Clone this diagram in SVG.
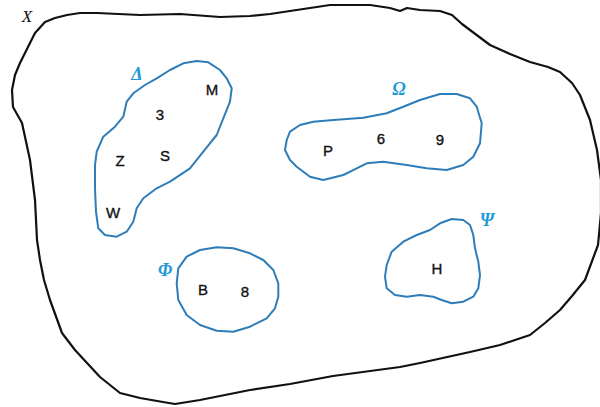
<svg xmlns="http://www.w3.org/2000/svg" width="600" height="407" viewBox="0 0 600 407">
  <style>
    .universe { fill: none; stroke: #111; stroke-width: 2.2; stroke-linejoin: round; }
    .set { fill: none; stroke: #2f7db8; stroke-width: 2; stroke-linejoin: round; }
    .elem { font-family: "Liberation Sans", Arial, sans-serif; font-size: 15px; fill: #111; stroke: #111; stroke-width: 0.35; text-anchor: middle; }
    .setname { font-family: "Liberation Serif", "DejaVu Serif", serif; font-style: italic; font-weight: bold; font-size: 18px; fill: #1e9ad6; text-anchor: middle; }
    .uname { font-family: "Liberation Serif", "DejaVu Serif", serif; font-style: italic; font-size: 17px; fill: #111; text-anchor: middle; }
  </style>
  <rect width="600" height="407" fill="#fff"/>

  <!-- universal set X -->
  <g id="universe">
    <path class="universe" d="M45,22 L55,18 L67,15 L80,13 L97,13 L140,15 L180,14 L220,17 L250,16 L270,14 L290,11 L310,8 L330,5 L370,5 L390,8 L400,11 L407,8 L420,10 L440,11 L452,15 L462,24 L470,30 L490,45 L510,54 L530,62 L548,67 L560,72 L572,83 L580,95 L590,120 L597,150 L601,180 L601,213 L598,245 L585,280 L572,296 L560,310 L545,323 L530,335 L500,345 L470,352 L420,363 L400,367 L333,376 L290,384 L250,390 L200,400 L175,404 L163,402 L140,398 L120,393 L100,377 L75,350 L62,333 L50,300 L44,280 L40,260 L37,240 L35,200 L30,160 L22,123 L13,107 L12,90 L15,75 L20,63 L28,47 L35,33 Z"/>
    <text class="uname" x="27" y="22">X</text>
  </g>

  <!-- set Delta -->
  <g id="set-delta">
    <path class="set" d="M96.7,151.7 L103.3,136.7 L115,126.7 L123.3,116.7 L126.7,101.7 L133.3,93.3 L145,85 L156.7,78.3 L170,70 L183.3,63.3 L196.7,61 L208.3,62.3 L220,70 L226.7,78.3 L231.7,88.3 L230,101.7 L223.3,118.3 L216.7,135 L203.3,151.7 L190,168.3 L170,181.7 L156.7,188.3 L143.3,198.3 L136.7,208.3 L133.3,221.7 L126.7,231.7 L116.7,236.7 L105,235 L98.3,228.3 L96,211.7 L95,188.3 L95,165 Z"/>
    <text class="setname" x="137" y="80">Δ</text>
    <text class="elem" x="212" y="95">M</text>
    <text class="elem" x="160" y="120">3</text>
    <text class="elem" x="120" y="166">Z</text>
    <text class="elem" x="165" y="161">S</text>
    <text class="elem" x="113" y="218">W</text>
  </g>

  <!-- set Omega -->
  <g id="set-omega">
    <path class="set" d="M286.7,140 L290,131.7 L300,125 L313.3,121.7 L333.3,120 L363.3,117.7 L386.7,113.3 L403.3,106.7 L420,100 L440,94 L456.7,94 L470,98.3 L476.7,106.7 L481.7,123.3 L480,143.3 L473.3,156.7 L463.3,165 L446.7,170 L426.7,168.3 L406.7,165 L383.3,161.7 L366.7,163.3 L356.7,168.3 L343.3,175 L323.3,180 L310,176.7 L296.7,166.7 L290,160 L285,150 Z"/>
    <text class="setname" x="399" y="95">Ω</text>
    <text class="elem" x="328" y="156">P</text>
    <text class="elem" x="381" y="144">6</text>
    <text class="elem" x="440" y="145">9</text>
  </g>

  <!-- set Phi -->
  <g id="set-phi">
    <path class="set" d="M178.3,268.3 L186.7,256.7 L200,250 L216.7,247.3 L233.3,248.3 L250,253.3 L263.3,260 L273.3,270 L278.3,283.3 L278.3,296.7 L275,308.3 L266.7,318.3 L250,326.7 L233.3,331.7 L216.7,330.7 L200,325 L186.7,315 L178.3,300 L176.7,283.3 Z"/>
    <text class="setname" x="165" y="276">Φ</text>
    <text class="elem" x="203" y="295">B</text>
    <text class="elem" x="245" y="297">8</text>
  </g>

  <!-- set Psi -->
  <g id="set-psi">
    <path class="set" d="M386.7,265 L391.7,251.7 L403.3,241.7 L416.7,235 L430,230 L440,223.3 L451.7,219 L463.3,220 L470,225 L473.3,235 L475,248.3 L478.3,261.7 L480,275 L478.3,288.3 L473.3,296.7 L463.3,301.7 L451.7,303.3 L441.7,300 L433.3,296.7 L420,295 L406.7,296.7 L395,295 L386.7,288.3 L385,276.7 Z"/>
    <text class="setname" x="487" y="226">Ψ</text>
    <text class="elem" x="437" y="274">H</text>
  </g>
</svg>
